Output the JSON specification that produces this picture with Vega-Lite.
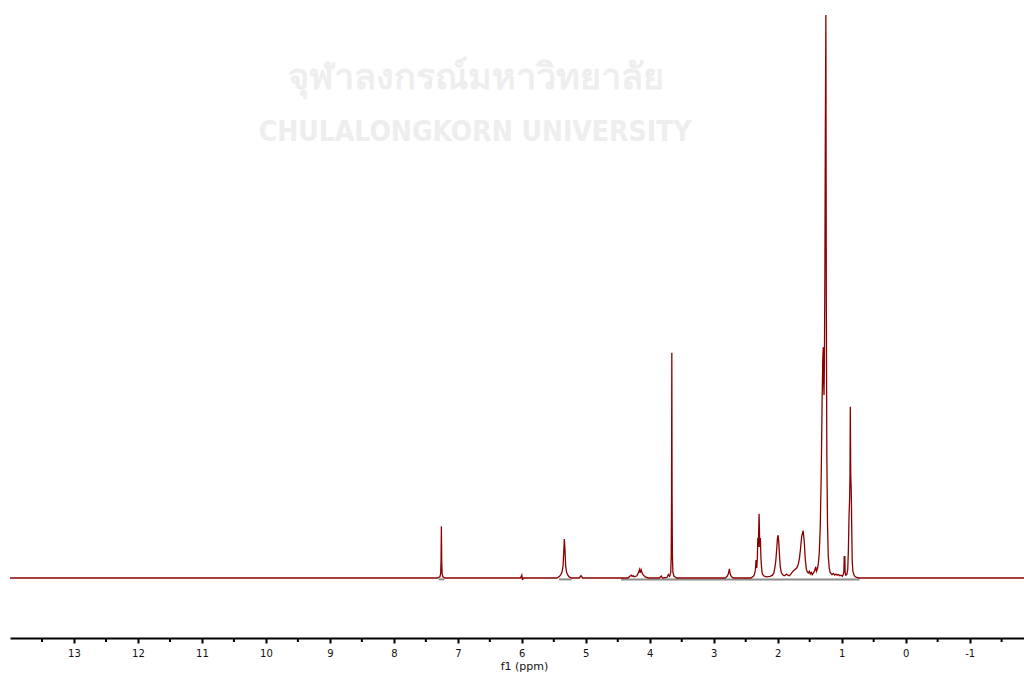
{
  "$schema": "https://vega.github.io/schema/vega-lite/v6.json",
  "width": 1014,
  "height": 638,
  "autosize": "none",
  "padding": {"left": 10, "right": 0, "top": 0, "bottom": 37},
  "background": "#ffffff",
  "config": {"view": {"stroke": null}},
  "datasets": {
    "spec": [
      {"ppm": 14.0, "intensity": 0},
      {"ppm": 7.32, "intensity": 0},
      {"ppm": 7.28, "intensity": 0.2},
      {"ppm": 7.268, "intensity": 0.8},
      {"ppm": 7.262, "intensity": 3},
      {"ppm": 7.257, "intensity": 9.2},
      {"ppm": 7.252, "intensity": 3},
      {"ppm": 7.246, "intensity": 0.8},
      {"ppm": 7.234, "intensity": 0.2},
      {"ppm": 7.2, "intensity": 0},
      {"ppm": 6.02, "intensity": 0},
      {"ppm": 6.0, "intensity": 0.5},
      {"ppm": 5.99, "intensity": -0.35},
      {"ppm": 5.98, "intensity": 0},
      {"ppm": 5.45, "intensity": 0},
      {"ppm": 5.41, "intensity": 0.3},
      {"ppm": 5.39, "intensity": 0.6},
      {"ppm": 5.37, "intensity": 1.1},
      {"ppm": 5.355, "intensity": 2.2},
      {"ppm": 5.345, "intensity": 4.5},
      {"ppm": 5.335, "intensity": 6.9},
      {"ppm": 5.325, "intensity": 5},
      {"ppm": 5.315, "intensity": 2.2},
      {"ppm": 5.3, "intensity": 1},
      {"ppm": 5.28, "intensity": 0.5},
      {"ppm": 5.26, "intensity": 0.2},
      {"ppm": 5.22, "intensity": 0},
      {"ppm": 5.1, "intensity": 0},
      {"ppm": 5.075, "intensity": 0.4},
      {"ppm": 5.05, "intensity": 0},
      {"ppm": 4.34, "intensity": 0},
      {"ppm": 4.31, "intensity": 0.3},
      {"ppm": 4.29, "intensity": 0.5},
      {"ppm": 4.275, "intensity": 0.3},
      {"ppm": 4.26, "intensity": 0.4},
      {"ppm": 4.24, "intensity": 0.2},
      {"ppm": 4.2, "intensity": 0.4},
      {"ppm": 4.175, "intensity": 1.0},
      {"ppm": 4.16, "intensity": 1.5},
      {"ppm": 4.15, "intensity": 0.9},
      {"ppm": 4.135, "intensity": 1.5},
      {"ppm": 4.12, "intensity": 0.9},
      {"ppm": 4.1, "intensity": 0.5},
      {"ppm": 4.07, "intensity": 0.2},
      {"ppm": 4.02, "intensity": 0},
      {"ppm": 3.85, "intensity": 0},
      {"ppm": 3.82, "intensity": 0.35},
      {"ppm": 3.8, "intensity": 0},
      {"ppm": 3.73, "intensity": 0.1},
      {"ppm": 3.71, "intensity": 0.6},
      {"ppm": 3.69, "intensity": 0.3},
      {"ppm": 3.672, "intensity": 1},
      {"ppm": 3.664, "intensity": 4},
      {"ppm": 3.659, "intensity": 15},
      {"ppm": 3.655, "intensity": 40},
      {"ppm": 3.651, "intensity": 15},
      {"ppm": 3.646, "intensity": 4},
      {"ppm": 3.638, "intensity": 1},
      {"ppm": 3.62, "intensity": 0.3},
      {"ppm": 3.58, "intensity": 0},
      {"ppm": 2.82, "intensity": 0},
      {"ppm": 2.79, "intensity": 0.3},
      {"ppm": 2.77, "intensity": 0.8},
      {"ppm": 2.755, "intensity": 1.6},
      {"ppm": 2.74, "intensity": 0.6},
      {"ppm": 2.72, "intensity": 0.2},
      {"ppm": 2.69, "intensity": 0},
      {"ppm": 2.42, "intensity": 0},
      {"ppm": 2.38, "intensity": 0.3},
      {"ppm": 2.365, "intensity": 0.6},
      {"ppm": 2.35, "intensity": 1.3},
      {"ppm": 2.338, "intensity": 3.2},
      {"ppm": 2.327, "intensity": 1.8},
      {"ppm": 2.318, "intensity": 3.5},
      {"ppm": 2.311, "intensity": 7.1},
      {"ppm": 2.303, "intensity": 5.5},
      {"ppm": 2.291, "intensity": 11.4},
      {"ppm": 2.28, "intensity": 5.5},
      {"ppm": 2.271, "intensity": 7.1},
      {"ppm": 2.262, "intensity": 3.5},
      {"ppm": 2.25, "intensity": 1.5},
      {"ppm": 2.24, "intensity": 0.7},
      {"ppm": 2.22, "intensity": 0.4},
      {"ppm": 2.18, "intensity": 0.2},
      {"ppm": 2.12, "intensity": 0.3},
      {"ppm": 2.08, "intensity": 0.5},
      {"ppm": 2.06, "intensity": 0.9},
      {"ppm": 2.045, "intensity": 1.8},
      {"ppm": 2.03, "intensity": 3.0},
      {"ppm": 2.015, "intensity": 5.2},
      {"ppm": 2.004, "intensity": 7.0},
      {"ppm": 1.994, "intensity": 7.6},
      {"ppm": 1.984, "intensity": 6.5},
      {"ppm": 1.972, "intensity": 4.0},
      {"ppm": 1.96, "intensity": 2.0},
      {"ppm": 1.945, "intensity": 1.0},
      {"ppm": 1.925, "intensity": 0.6},
      {"ppm": 1.9, "intensity": 0.4},
      {"ppm": 1.88, "intensity": 0.5},
      {"ppm": 1.86, "intensity": 0.7},
      {"ppm": 1.84, "intensity": 0.5},
      {"ppm": 1.82, "intensity": 0.4},
      {"ppm": 1.8, "intensity": 0.6},
      {"ppm": 1.78, "intensity": 0.9},
      {"ppm": 1.76, "intensity": 1.2},
      {"ppm": 1.74, "intensity": 1.4},
      {"ppm": 1.72, "intensity": 1.6},
      {"ppm": 1.7, "intensity": 1.8},
      {"ppm": 1.68, "intensity": 2.4},
      {"ppm": 1.66, "intensity": 3.5},
      {"ppm": 1.645, "intensity": 5},
      {"ppm": 1.625, "intensity": 7.4},
      {"ppm": 1.602, "intensity": 8.4},
      {"ppm": 1.585, "intensity": 6.5},
      {"ppm": 1.57, "intensity": 3.5},
      {"ppm": 1.555, "intensity": 1.8},
      {"ppm": 1.54, "intensity": 1.1},
      {"ppm": 1.52, "intensity": 0.9},
      {"ppm": 1.505, "intensity": 1.2},
      {"ppm": 1.49, "intensity": 0.7},
      {"ppm": 1.475, "intensity": 1.0},
      {"ppm": 1.46, "intensity": 0.6},
      {"ppm": 1.44, "intensity": 0.9},
      {"ppm": 1.42, "intensity": 1.4},
      {"ppm": 1.405, "intensity": 2.0},
      {"ppm": 1.395, "intensity": 1.2},
      {"ppm": 1.38, "intensity": 1.6},
      {"ppm": 1.365, "intensity": 2.5},
      {"ppm": 1.35, "intensity": 4.5},
      {"ppm": 1.335, "intensity": 9},
      {"ppm": 1.32, "intensity": 18},
      {"ppm": 1.305, "intensity": 32},
      {"ppm": 1.295, "intensity": 39},
      {"ppm": 1.287, "intensity": 41},
      {"ppm": 1.282, "intensity": 35},
      {"ppm": 1.276, "intensity": 32.5},
      {"ppm": 1.27, "intensity": 38},
      {"ppm": 1.262, "intensity": 55},
      {"ppm": 1.255, "intensity": 80},
      {"ppm": 1.247, "intensity": 100},
      {"ppm": 1.24, "intensity": 50},
      {"ppm": 1.232, "intensity": 22},
      {"ppm": 1.222, "intensity": 10},
      {"ppm": 1.21, "intensity": 4},
      {"ppm": 1.195, "intensity": 1.8},
      {"ppm": 1.18, "intensity": 1.0},
      {"ppm": 1.165, "intensity": 0.8},
      {"ppm": 1.15, "intensity": 0.6},
      {"ppm": 1.13, "intensity": 0.8},
      {"ppm": 1.11, "intensity": 0.5},
      {"ppm": 1.09, "intensity": 0.7},
      {"ppm": 1.07, "intensity": 0.5},
      {"ppm": 1.05, "intensity": 0.6},
      {"ppm": 1.03, "intensity": 0.4},
      {"ppm": 1.01, "intensity": 0.5},
      {"ppm": 0.99, "intensity": 0.3},
      {"ppm": 0.975, "intensity": 0.6},
      {"ppm": 0.965, "intensity": 1.2},
      {"ppm": 0.96, "intensity": 3.9},
      {"ppm": 0.956, "intensity": 1.0},
      {"ppm": 0.951, "intensity": 3.9},
      {"ppm": 0.946, "intensity": 1.0},
      {"ppm": 0.935, "intensity": 0.5},
      {"ppm": 0.92, "intensity": 0.6},
      {"ppm": 0.905, "intensity": 1.5},
      {"ppm": 0.895, "intensity": 5},
      {"ppm": 0.885, "intensity": 11},
      {"ppm": 0.876, "intensity": 14},
      {"ppm": 0.87, "intensity": 18},
      {"ppm": 0.865, "intensity": 30.4},
      {"ppm": 0.858, "intensity": 18},
      {"ppm": 0.85, "intensity": 15.5},
      {"ppm": 0.843, "intensity": 9},
      {"ppm": 0.835, "intensity": 3},
      {"ppm": 0.825, "intensity": 1.2},
      {"ppm": 0.81, "intensity": 0.6},
      {"ppm": 0.795, "intensity": 0.3},
      {"ppm": 0.77, "intensity": 0.1},
      {"ppm": 0.72, "intensity": 0},
      {"ppm": -1.85, "intensity": 0}
    ],
    "base": [
      {"start": 7.3, "end": 7.21},
      {"start": 5.42, "end": 5.22},
      {"start": 4.45, "end": 0.72}
    ],
    "minor": [
      {"ppm": 13.5}, {"ppm": 12.5}, {"ppm": 11.5}, {"ppm": 10.5}, {"ppm": 9.5}, {"ppm": 8.5}, {"ppm": 7.5}, {"ppm": 6.5},
      {"ppm": 5.5}, {"ppm": 4.5}, {"ppm": 3.5}, {"ppm": 2.5}, {"ppm": 1.5}, {"ppm": 0.5}, {"ppm": -0.5}, {"ppm": -1.5}
    ],
    "wmThai": [
      {"ppm": 6.72, "intensity": 88.8, "label": "จุฬาลงกรณ์มหาวิทยาลัย"}
    ],
    "wmEng": [
      {"ppm": 6.73, "intensity": 79.0, "label": "CHULALONGKORN UNIVERSITY"}
    ]
  },
  "layer": [
    {
      "data": {"name": "wmThai"},
      "mark": {"type": "text", "font": "Noto Sans", "fontSize": 36, "fontWeight": "bold", "color": "#eeeeee", "baseline": "middle", "align": "center"},
      "encoding": {
        "x": {
          "field": "ppm",
          "type": "quantitative",
          "scale": {"domain": [-1.85, 14.0], "reverse": true, "nice": false, "zero": false},
          "axis": {
            "title": "f1 (ppm)",
            "values": [13, 12, 11, 10, 9, 8, 7, 6, 5, 4, 3, 2, 1, 0, -1],
            "labelExpr": "datum.value + ''",
            "grid": false,
            "domainColor": "#000000",
            "domainWidth": 2,
            "tickColor": "#000000",
            "tickWidth": 2,
            "tickSize": 5,
            "labelFont": "DejaVu Sans",
            "labelFontSize": 10,
            "labelColor": "#111111",
            "labelPadding": 5,
            "labelOverlap": false,
            "labelBound": false,
            "labelFlush": false,
            "titleFont": "DejaVu Sans",
            "titleFontSize": 11,
            "titleFontWeight": "normal",
            "titleColor": "#111111",
            "titlePadding": 2,
            "titleX": 514
          }
        },
        "y": {"field": "intensity", "type": "quantitative", "scale": {"domain": [-10.66, 102.66], "nice": false, "zero": false}, "axis": null},
        "text": {"field": "label"}
      }
    },
    {
      "data": {"name": "wmEng"},
      "mark": {"type": "text", "font": "DejaVu Sans Condensed", "fontSize": 28, "fontWeight": "bold", "color": "#eeeeee", "baseline": "middle", "align": "center"},
      "encoding": {
        "x": {"field": "ppm", "type": "quantitative"},
        "y": {"field": "intensity", "type": "quantitative"},
        "text": {"field": "label"}
      }
    },
    {
      "data": {"name": "minor"},
      "mark": {"type": "rule", "color": "#000000", "strokeWidth": 2, "clip": false},
      "encoding": {
        "x": {"field": "ppm", "type": "quantitative"},
        "y": {"datum": -10.66},
        "y2": {"datum": -11.37}
      }
    },
    {
      "data": {"name": "base"},
      "mark": {"type": "rule", "color": "#8c8c8c", "strokeWidth": 2},
      "encoding": {
        "x": {"field": "start", "type": "quantitative"},
        "x2": {"field": "end"},
        "y": {"datum": -0.25}
      }
    },
    {
      "data": {"name": "spec"},
      "mark": {"type": "line", "color": "#8b0000", "strokeWidth": 1.3, "clip": true},
      "encoding": {
        "x": {"field": "ppm", "type": "quantitative"},
        "y": {"field": "intensity", "type": "quantitative"}
      }
    }
  ]
}
